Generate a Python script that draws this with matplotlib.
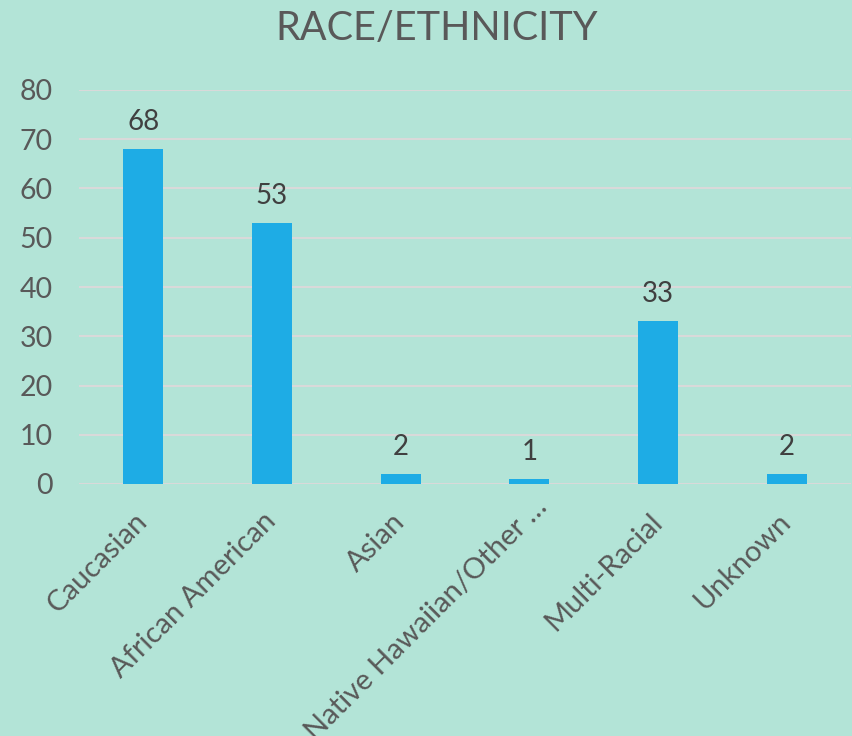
import matplotlib.pyplot as plt
from matplotlib.transforms import ScaledTranslation

categories = ['Caucasian', 'African American', 'Asian', 'Native Hawaiian/Other \u2026', 'Multi-Racial', 'Unknown']
counts = [68, 53, 2, 1, 33, 2]
y_ticks = [0, 10, 20, 30, 40, 50, 60, 70, 80]

bg = '#b3e4d7'
bar_color = '#1eace5'
text_grey = '#595959'

plt.rcParams['font.family'] = ['Lato', 'DejaVu Sans']

fig = plt.figure(figsize=(8.52, 7.36), dpi=100, facecolor=bg)
ax = fig.add_axes([79 / 852, 1 - 484 / 736, 772 / 852, 394 / 736], facecolor=bg)

x = range(len(categories))
bars = ax.bar(x, counts, width=0.31, color=bar_color, zorder=3)

# data labels above each bar
for rect, val in zip(bars, counts):
    ax.annotate(str(val), (rect.get_x() + rect.get_width() / 2, rect.get_height()),
                xytext=(0, 14), textcoords='offset points', ha='center', va='baseline',
                fontsize=20, color='#404040')

ax.set_xlim(-0.5, len(categories) - 0.5)
ax.set_ylim(0, 80)
ax.set_yticks(y_ticks)
ax.set_xticks(list(x))
ax.set_xticklabels(categories, rotation=45, ha='right', va='center', rotation_mode='anchor')

ax.grid(axis='y', color='#d9d9d9', linewidth=1.5, zorder=0)
ax.tick_params(axis='y', length=0, pad=19, labelsize=20.5, labelcolor=text_grey)
ax.tick_params(axis='x', length=0, pad=24, labelsize=21, labelcolor=text_grey)
for s in ax.spines.values():
    s.set_visible(False)

# the long label sits a little further up-right in the original (wide ellipsis)
long_lbl = ax.get_xticklabels()[3]
long_lbl.set_transform(long_lbl.get_transform() + ScaledTranslation(0.14, 0.14, fig.dpi_scale_trans))

fig.text(437 / 852, 1 - 28 / 736, 'RACE/ETHNICITY', ha='center', va='center',
         fontsize=28.5, color=text_grey)

fig.savefig('out.png', dpi=100, facecolor=bg)
